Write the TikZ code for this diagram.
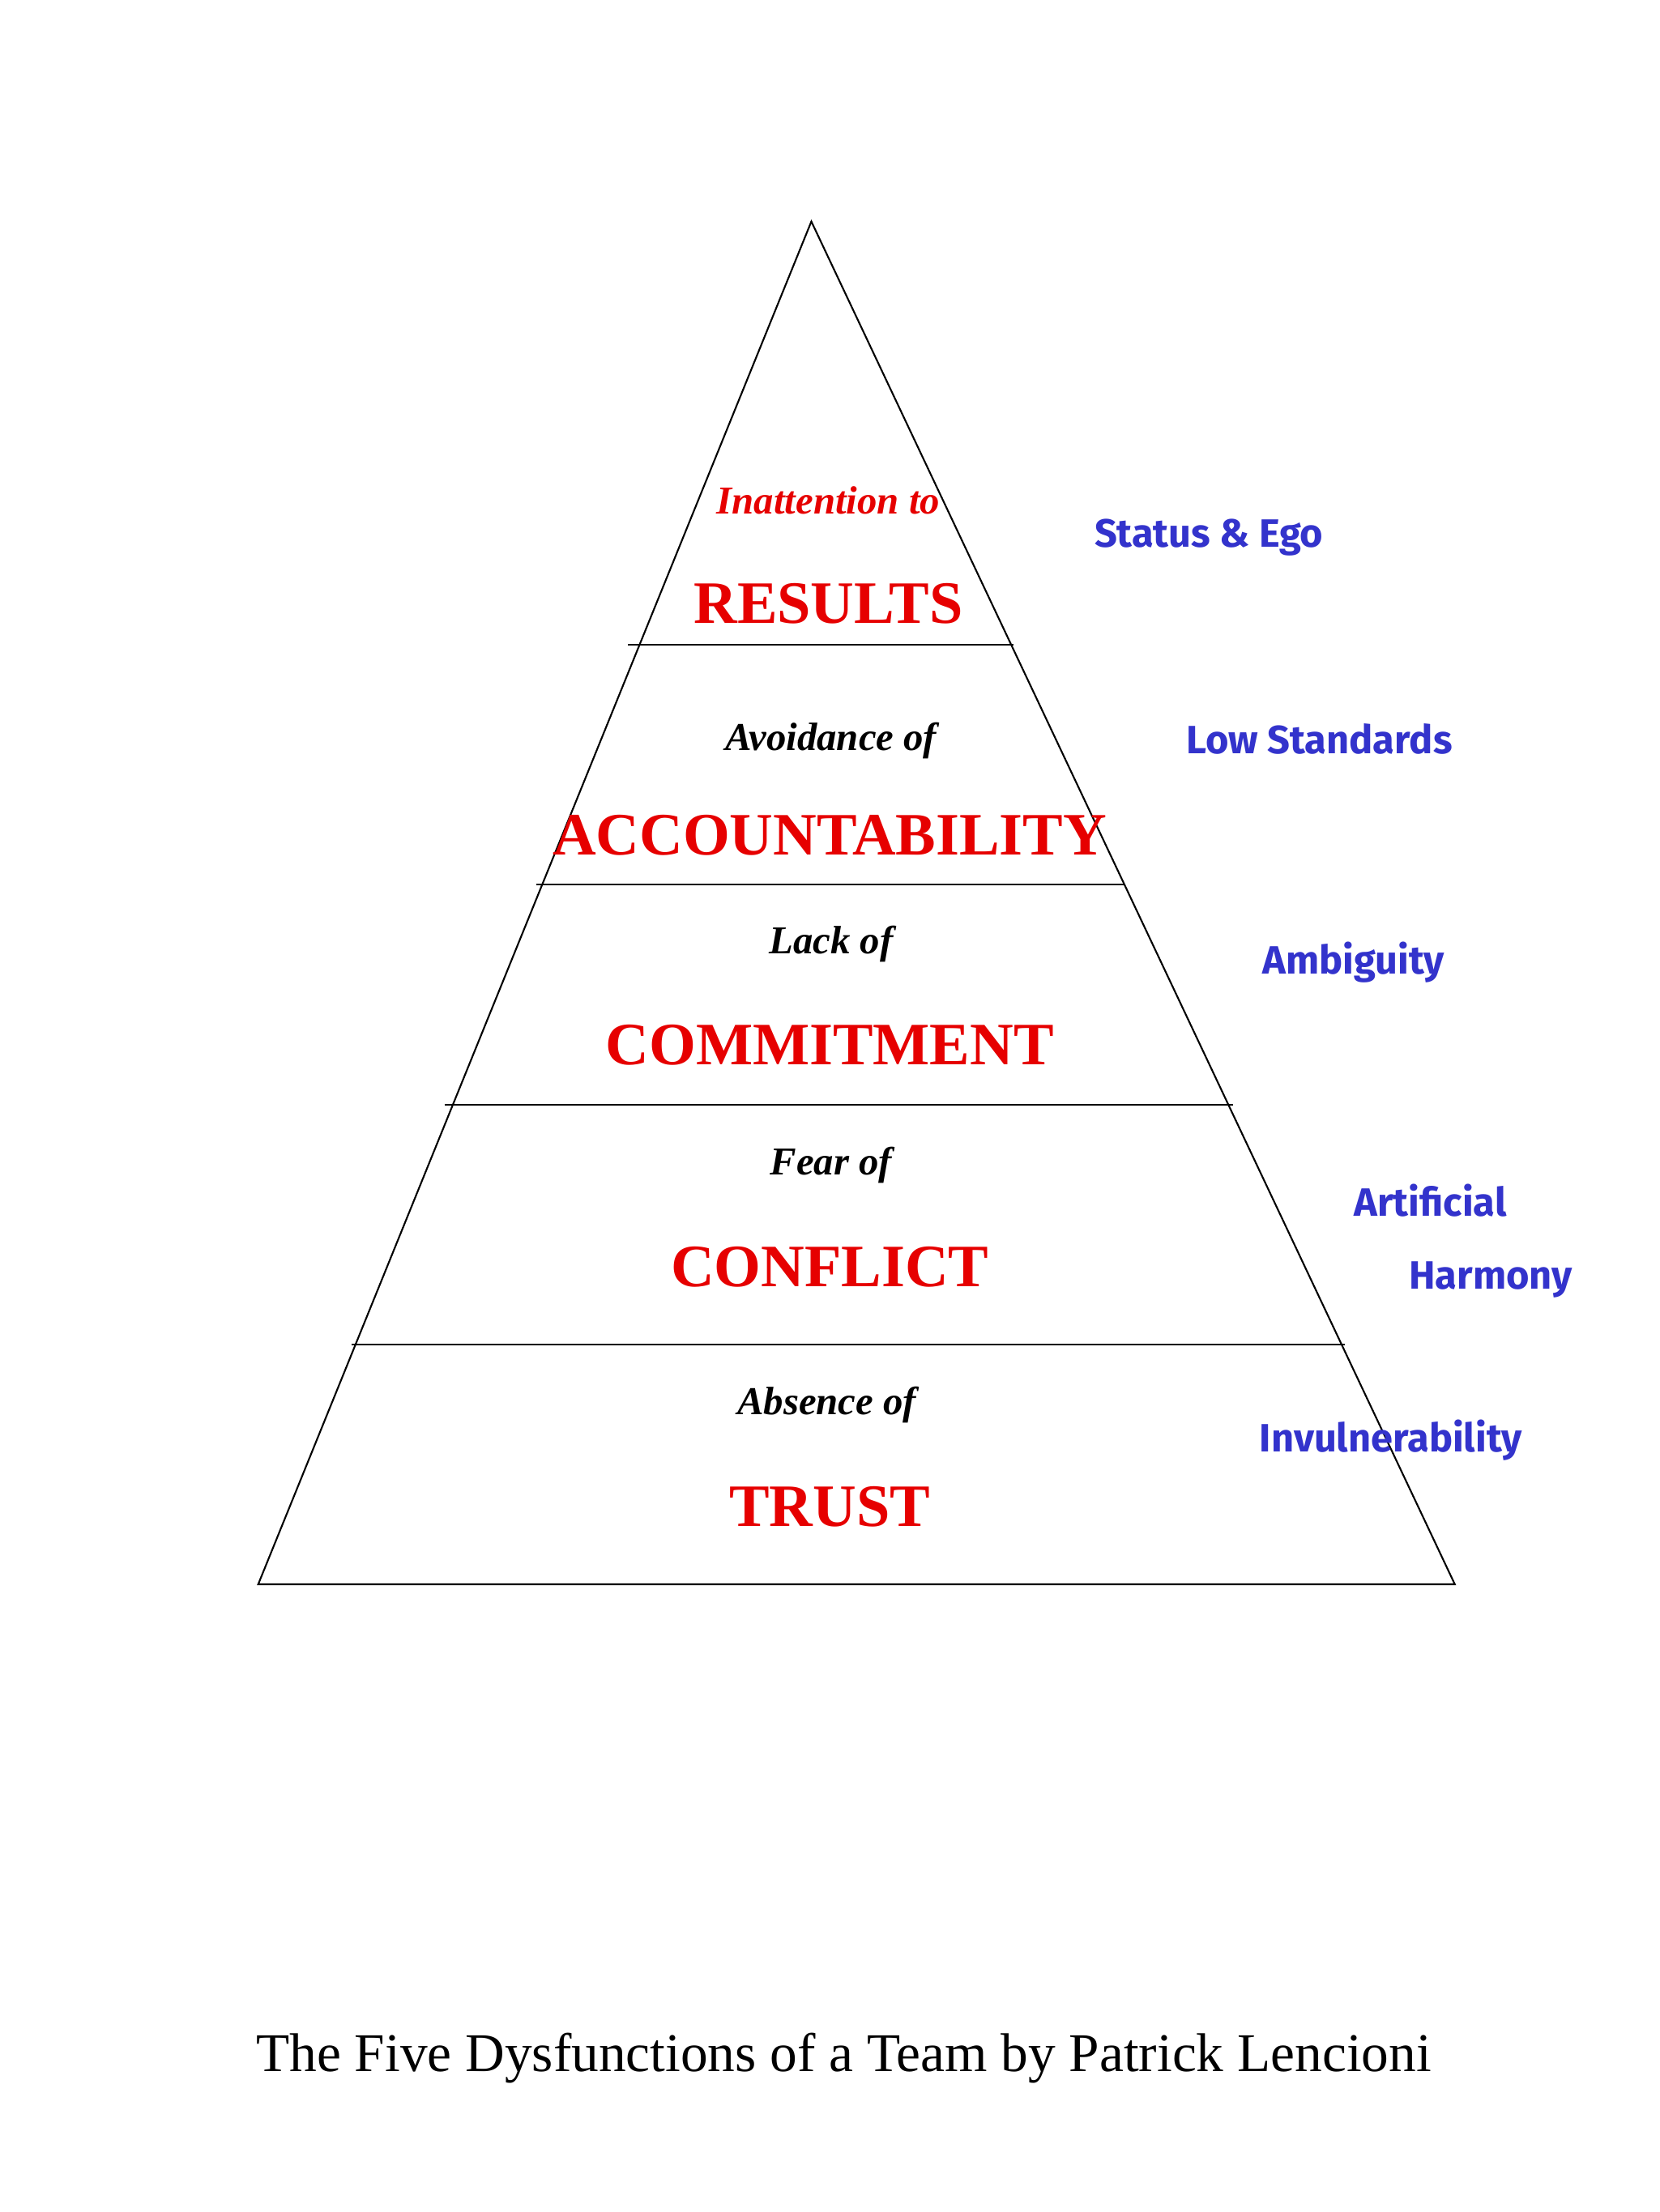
\documentclass[tikz,border=0pt]{standalone}
\usepackage{fontspec}
\setmainfont{Liberation Serif}
\newfontfamily\blu{Fira Sans}
\definecolor{rd}{RGB}{230,0,0}
\definecolor{bl}{RGB}{51,51,204}
\begin{document}
\begin{tikzpicture}[x=0.75pt,y=-0.75pt,
  small/.style={font=\fontsize{21}{24}\selectfont\bfseries\itshape},
  big/.style={font=\fontsize{32}{36}\selectfont\bfseries,text=rd},
  side/.style={font=\blu\fontsize{21}{24}\selectfont\bfseries,text=bl,anchor=west},
  ln/.style={line width=0.9pt}]
\useasboundingbox (0,0) rectangle (1176,1568);
\coordinate (apex) at (575,157);
\coordinate (bl) at (183,1123);
\coordinate (br) at (1031,1123);
\draw[ln] (apex) -- (bl) -- (br) -- cycle;
\draw[ln] (445,457) -- (718,457);
\draw[ln] (380,627) -- (797,627);
\draw[ln] (315,783) -- (874,783);
\draw[ln] (249,953) -- (953,953);
\node[small,text=rd] (t1) at (587,355) {Inattention to};
\node[big] (b1) at (587,428) {RESULTS};
\node[small] (t2) at (589,525) {Avoidance of};
\node[big] (b2) at (588,592) {ACCOUNTABILITY};
\node[small] (t3) at (589,669) {Lack of};
\node[big] (b3) at (588,741) {COMMITMENT};
\node[small] (t4) at (589,826) {Fear of};
\node[big] (b4) at (588,898) {CONFLICT};
\node[small] (t5) at (586,996) {Absence of};
\node[big] (b5) at (588,1068) {TRUST};
\node[side] (s1) at (771,381) {Status \& Ego};
\node[side] (s2) at (836,524) {Low Standards};
\node[side] (s3) at (890,682) {Ambiguity};
\node[side] (s4) at (955,851) {Artificial};
\node[side] (s5) at (994,907) {Harmony};
\node[side] (s6) at (888,1021) {Invulnerability};
\node[font=\fontsize{29}{34}\selectfont] (cap) at (598,1459) {The Five Dysfunctions of a Team by Patrick Lencioni};
\end{tikzpicture}
\end{document}
